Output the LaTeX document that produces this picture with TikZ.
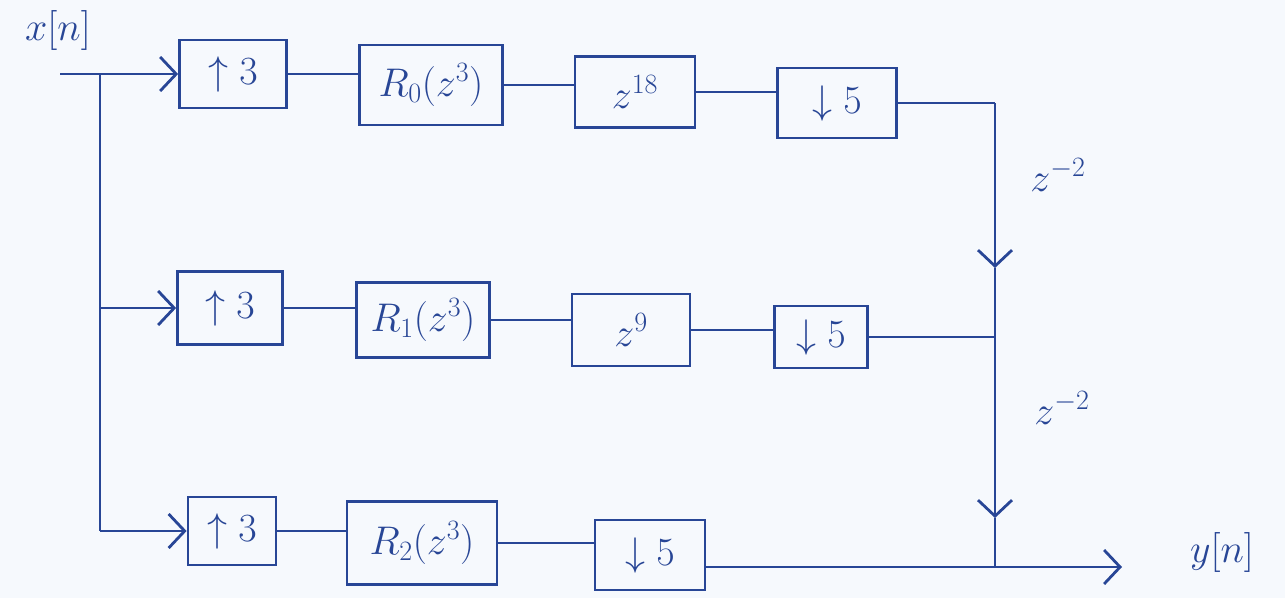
\RequirePackage{fix-cm}
\documentclass[tikz,border=0pt]{standalone}
\usetikzlibrary{arrows.meta}
\definecolor{pen}{RGB}{40,70,150}
\definecolor{paper}{RGB}{246,249,253}
\begin{document}
\begin{tikzpicture}[x=1pt,y=-1pt,
  line width=2.8pt, draw=pen, text=pen,
  blk/.style={draw=pen, line width=2.8pt, rectangle, inner sep=0pt, font=\fontsize{40}{46}\selectfont},
  wire/.style={draw=pen, line width=2.8pt},
  barb/.style={draw=pen, line width=2.8pt, -{Straight Barb[length=16pt,width=34pt,line width=2.8pt]}},
  lbl/.style={text=pen, font=\fontsize{40}{46}\selectfont}]
\fill[paper] (0,0) rectangle (1285,598);
\useasboundingbox (0,0) rectangle (1285,598);
% row 1
\node[blk, minimum width=107pt, minimum height=68pt] (u1) at (233,74) {$\uparrow 3$};
\node[blk, minimum width=143pt, minimum height=80pt] (r0) at (431,85) {$R_0(z^3)$};
\node[blk, minimum width=120pt, minimum height=71pt] (z18) at (635,92) {$z^{18}$};
\node[blk, minimum width=119pt, minimum height=70pt] (d1) at (837,103) {$\downarrow 5$};
% row 2
\node[blk, minimum width=105pt, minimum height=73pt] (u2) at (230,308) {$\uparrow 3$};
\node[blk, minimum width=133pt, minimum height=75pt] (r1) at (423,320) {$R_1(z^3)$};
\node[blk, minimum width=118pt, minimum height=72pt] (z9) at (631,330) {$z^{9}$};
\node[blk, minimum width=93pt, minimum height=62pt] (d2) at (821,337) {$\downarrow 5$};
% row 3
\node[blk, minimum width=88pt, minimum height=68pt] (u3) at (232,531) {$\uparrow 3$};
\node[blk, minimum width=150pt, minimum height=83pt] (r2) at (422,543) {$R_2(z^3)$};
\node[blk, minimum width=110pt, minimum height=70pt] (d3) at (650,555) {$\downarrow 5$};
% labels
\node[lbl] (xin) at (58,30) {$x[n]$};
\node[lbl] (yout) at (1222,552) {$y[n]$};
\node[lbl] (zd1) at (1058,175) {$z^{-2}$};
\node[lbl] (zd2) at (1062,408) {$z^{-2}$};
% coordinates
\coordinate (in) at (60,74);
\coordinate (b1) at (100,74);
\coordinate (b2) at (100,308);
\coordinate (b3) at (100,531);
\coordinate (j1) at (995,103);
\coordinate (a1) at (995,268);
\coordinate (j2) at (995,337);
\coordinate (a2) at (995,518);
\coordinate (j3) at (995,567);
\coordinate (out) at (1122,567);
% input distribution
\draw[barb] (in) -- (u1.west);
\draw[wire] (b1) -- (b3);
\draw[barb] (b2) -- (u2.west);
\draw[barb] (b3) -- (u3.west);
% row chains
\draw[wire] (u1.east) -- (u1.east -| r0.west);
\draw[wire] (r0.east) -- (r0.east -| z18.west);
\draw[wire] (z18.east) -- (z18.east -| d1.west);
\draw[wire] (d1.east) -- (j1);
\draw[wire] (u2.east) -- (u2.east -| r1.west);
\draw[wire] (r1.east) -- (r1.east -| z9.west);
\draw[wire] (z9.east) -- (z9.east -| d2.west);
\draw[wire] (d2.east) -- (j2);
\draw[wire] (u3.east) -- (u3.east -| r2.west);
\draw[wire] (r2.east) -- (r2.east -| d3.west);
\draw[wire] (d3.east |- j3) -- (j3);
% summing line
\draw[barb] (j1) -- (a1);
\draw[wire] (a1) -- (j2);
\draw[barb] (j2) -- (a2);
\draw[wire] (a2) -- (j3);
\draw[barb] (j3) -- (out);
\end{tikzpicture}
\end{document}
